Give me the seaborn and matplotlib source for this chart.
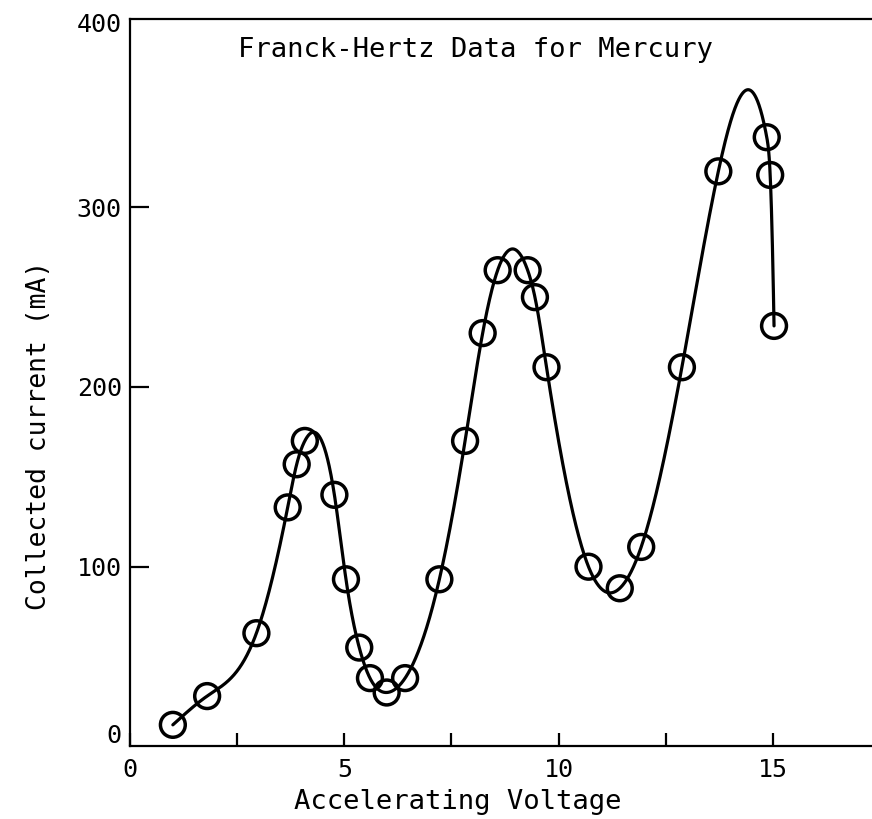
import numpy as np
import pandas as pd
import matplotlib
matplotlib.use("Agg")
import matplotlib.pyplot as plt
import matplotlib.transforms as mtrans
import seaborn as sns

# ---- data ----
voltage = [1.0, 1.8, 2.95, 3.68, 3.89, 4.08, 4.77, 5.04, 5.35, 5.60, 5.99, 6.42,
           7.22, 7.82, 8.23, 8.58, 9.28, 9.45, 9.72, 10.70, 11.43, 11.93, 12.88,
           13.73, 14.86, 14.94, 15.03]
current = [12, 28, 63, 133, 157, 170, 140, 93, 55, 38, 30, 38,
           93, 170, 230, 265, 265, 250, 211, 100, 88, 111, 211,
           320, 339, 318, 234]
xtick_vals = [0, 2.5, 5, 7.5, 10, 12.5, 15]
xtick_labels = ["0", "", "5", "", "10", "", "15"]
ytick_vals = [0, 100, 200, 300, 400]
ytick_labels = ["0", "100", "200", "300", "400"]
title = "Franck-Hertz Data for Mercury"
xlabel = "Accelerating Voltage"
ylabel = "Collected current (mA)"

df = pd.DataFrame({"V": voltage, "I": current})

# ---- smooth curve through the points (cubic spline in x;
#      natural start, parabolic run-out at the end) ----
def cubic_spline(t, v, tt):
    t = np.asarray(t, float)
    v = np.asarray(v, float)
    n = len(t)
    h = np.diff(t)
    A = np.zeros((n, n))
    b = np.zeros(n)
    A[0, 0] = 1.0
    A[-1, -1] = 1.0
    A[-1, -2] = -1.0
    for i in range(1, n - 1):
        A[i, i - 1] = h[i - 1]
        A[i, i] = 2 * (h[i - 1] + h[i])
        A[i, i + 1] = h[i]
        b[i] = 6 * ((v[i + 1] - v[i]) / h[i] - (v[i] - v[i - 1]) / h[i - 1])
    M = np.linalg.solve(A, b)
    idx = np.clip(np.searchsorted(t, tt) - 1, 0, n - 2)
    t0, t1 = t[idx], t[idx + 1]
    hh = t1 - t0
    a = (t1 - tt) / hh
    c = (tt - t0) / hh
    return (a * v[idx] + c * v[idx + 1]
            + ((a ** 3 - a) * M[idx] + (c ** 3 - c) * M[idx + 1]) * hh ** 2 / 6)

vv = np.linspace(voltage[0], voltage[-1], 3000)
curve = pd.DataFrame({"V": vv, "I": cubic_spline(voltage, current, vv)})

# ---- figure ----
sns.set_theme(style="white")
plt.rcParams["font.family"] = ["DejaVu Sans Mono", "DejaVu Sans"]
fig = plt.figure(figsize=(8.72, 8.19), dpi=100)
ax = fig.add_axes([130 / 872, 72.6 / 819, 742 / 872, 727.4 / 819])

sns.lineplot(data=curve, x="V", y="I", sort=False, estimator=None, ax=ax,
             color="black", linewidth=2.3)
sns.scatterplot(data=df, x="V", y="I", ax=ax, marker="o", s=320,
                facecolor="none", edgecolor="black", linewidth=2.5, zorder=3)

ax.set_xlim(0, 742 / 42.85)
ax.set_ylim(0, 727.4 / 1.797)

for side in ["left", "bottom", "top"]:
    ax.spines[side].set_visible(True)
    ax.spines[side].set_color("black")
    ax.spines[side].set_linewidth(1.6)
ax.spines["right"].set_visible(False)

ax.set_xticks(xtick_vals)
ax.set_xticklabels(xtick_labels)
ax.set_yticks(ytick_vals)
ax.set_yticklabels(ytick_labels)
ax.tick_params(axis="x", direction="in", length=9.5, width=1.6, pad=8,
               labelsize=18, colors="black", bottom=True, top=False)
ax.tick_params(axis="y", direction="in", length=14, width=1.6, pad=6,
               labelsize=18, colors="black", left=True, right=False)

yt = ax.yaxis.get_major_ticks()
# the 0 and 400 marks sit on the frame; shift their labels as in the reference
yt[0].tick1line.set_visible(False)
yt[-1].tick1line.set_visible(False)
lab0 = yt[0].label1
lab0.set_transform(lab0.get_transform()
                   + mtrans.ScaledTranslation(0, 13 / 100, fig.dpi_scale_trans))
lab4 = yt[-1].label1
lab4.set_transform(lab4.get_transform()
                   + mtrans.ScaledTranslation(0, 5 / 100, fig.dpi_scale_trans))

ax.set_xlabel(xlabel, fontsize=19.6, color="black")
ax.set_ylabel(ylabel, fontsize=19, color="black")
ax.xaxis.set_label_coords(0.442, -0.058)
ax.yaxis.set_label_coords(-0.105, 0.428)

ax.text(0.465, 0.957, title, transform=ax.transAxes, ha="center", va="center",
        fontsize=19.6, color="black")

fig.savefig("out.png", dpi=100, facecolor="white")
